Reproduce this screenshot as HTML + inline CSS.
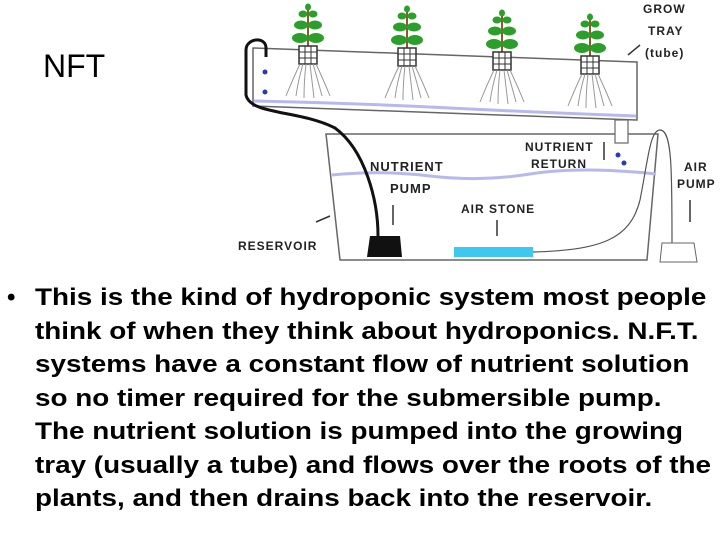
<!DOCTYPE html>
<html><head><meta charset="utf-8"><style>
html,body{margin:0;padding:0;background:#fff;}
body{width:720px;height:540px;position:relative;overflow:hidden;font-family:"Liberation Sans",Arial,sans-serif;}
#nft{position:absolute;left:43px;top:48px;font-size:32px;}
#txt{position:absolute;left:35px;top:281px;font-size:24px;font-weight:bold;line-height:33.5px;white-space:nowrap;transform:scaleX(1.16);transform-origin:0 0;}
#bul{position:absolute;left:7px;top:281px;font-size:24px;font-weight:bold;line-height:33.5px;}
svg{position:absolute;left:0;top:0;}
.l{font-family:"Liberation Sans",Arial,sans-serif;font-weight:bold;font-size:12px;letter-spacing:1px;fill:#222;}
</style></head><body>
<div id="nft">NFT</div>
<div id="bul">•</div>
<div id="txt">This is the kind of hydroponic system most people<br>think of when they think about hydroponics. N.F.T.<br>systems have a constant flow of nutrient solution<br>so no timer required for the submersible pump.<br>The nutrient solution is pumped into the growing<br>tray (usually a tube) and flows over the roots of the<br>plants, and then drains back into the reservoir.</div>
<svg width="720" height="280" viewBox="0 0 720 280">
<defs>
<g id="p">
<path d="M0,0 L0,-38" stroke="#8a5a2a" stroke-width="2"/>
<g fill="#2aa02a">
<ellipse cx="-8" cy="-8" rx="8" ry="5"/><ellipse cx="8" cy="-8" rx="8" ry="5"/>
<ellipse cx="-7" cy="-21" rx="7" ry="4.5"/><ellipse cx="7" cy="-21" rx="7" ry="4.5"/>
<ellipse cx="-5" cy="-32" rx="4.5" ry="3.5"/><ellipse cx="5" cy="-32" rx="4.5" ry="3.5"/>
<ellipse cx="0" cy="-39" rx="3" ry="3.5"/></g>
<rect x="-9" y="0" width="18" height="18" fill="#fff" stroke="#333" stroke-width="1.5"/>
<path d="M-9,6H9M-9,12H9M-3,0V18M3,0V18" stroke="#333"/>
<path d="M-8,18 Q-16,35 -22,50 M-5,18 Q-10,35 -12,50 M-2,18 Q-4,35 -4,52 M2,18 Q4,35 6,52 M5,18 Q10,35 14,50 M8,18 Q16,35 22,50" stroke="#999" fill="none"/>
</g>
</defs>
<polygon points="326,134 658,134 647,260 340,260" fill="#fff" stroke="#666" stroke-width="1.5"/>
<path d="M332,175 Q380,170 430,176 T530,174 T656,174" stroke="#b8b8f0" stroke-width="3" fill="none"/>
<polygon points="253,48 637,62 637,120 253,106" fill="#fff" stroke="#666" stroke-width="1.5"/>
<path d="M254,101 Q350,103 450,108 T636,116" stroke="#b8b8f0" stroke-width="3" fill="none"/>
<rect x="615" y="120" width="13" height="23" fill="#fff" stroke="#666" stroke-width="1.2"/>
<g fill="#2a3ab8"><circle cx="265" cy="72" r="2.5"/><circle cx="265" cy="92" r="2.5"/><circle cx="618" cy="155" r="2.5"/><circle cx="624" cy="163" r="2.5"/></g>
<path d="M378,236 C378,200 365,150 335,128 C300,110 250,115 246,95 L246,50 C246,38 266,36 266,48 L266,57" stroke="#111" stroke-width="3" fill="none"/>
<path d="M533,252 C600,250 630,240 640,200 C648,160 650,130 660,130 C672,130 672,170 672,243" stroke="#555" stroke-width="1.2" fill="none"/>
<polygon points="370,236 400,236 402,257 367,257" fill="#111"/>
<rect x="454" y="247" width="79" height="10" fill="#3ec8f0"/>
<polygon points="662,243 694,243 697,262 660,262" fill="#fff" stroke="#666"/>
<use href="#p" transform="translate(308,46)"/>
<use href="#p" transform="translate(407,48)"/>
<use href="#p" transform="translate(502,52)"/>
<use href="#p" transform="translate(590,56)"/>
<g stroke="#333" stroke-width="1.5" fill="none"><path d="M640,45 L628,55"/><path d="M393,205 L393,225"/><path d="M497,220 L497,236"/><path d="M690,200 L690,222"/><path d="M316,222 L330,216"/><path d="M604,142 L604,160"/></g>
<text class="l" x="643" y="13">GROW</text><text class="l" x="648" y="35">TRAY</text><text class="l" x="645" y="57">(tube)</text>
<text class="l" x="525" y="151">NUTRIENT</text><text class="l" x="531" y="168">RETURN</text>
<text class="l" x="684" y="171">AIR</text><text class="l" x="677" y="188">PUMP</text>
<text class="l" x="370" y="171" style="font-size:13px">NUTRIENT</text><text class="l" x="390" y="193" style="font-size:13px">PUMP</text>
<text class="l" x="461" y="213">AIR STONE</text>
<text class="l" x="238" y="250">RESERVOIR</text>
</svg>
</body></html>
